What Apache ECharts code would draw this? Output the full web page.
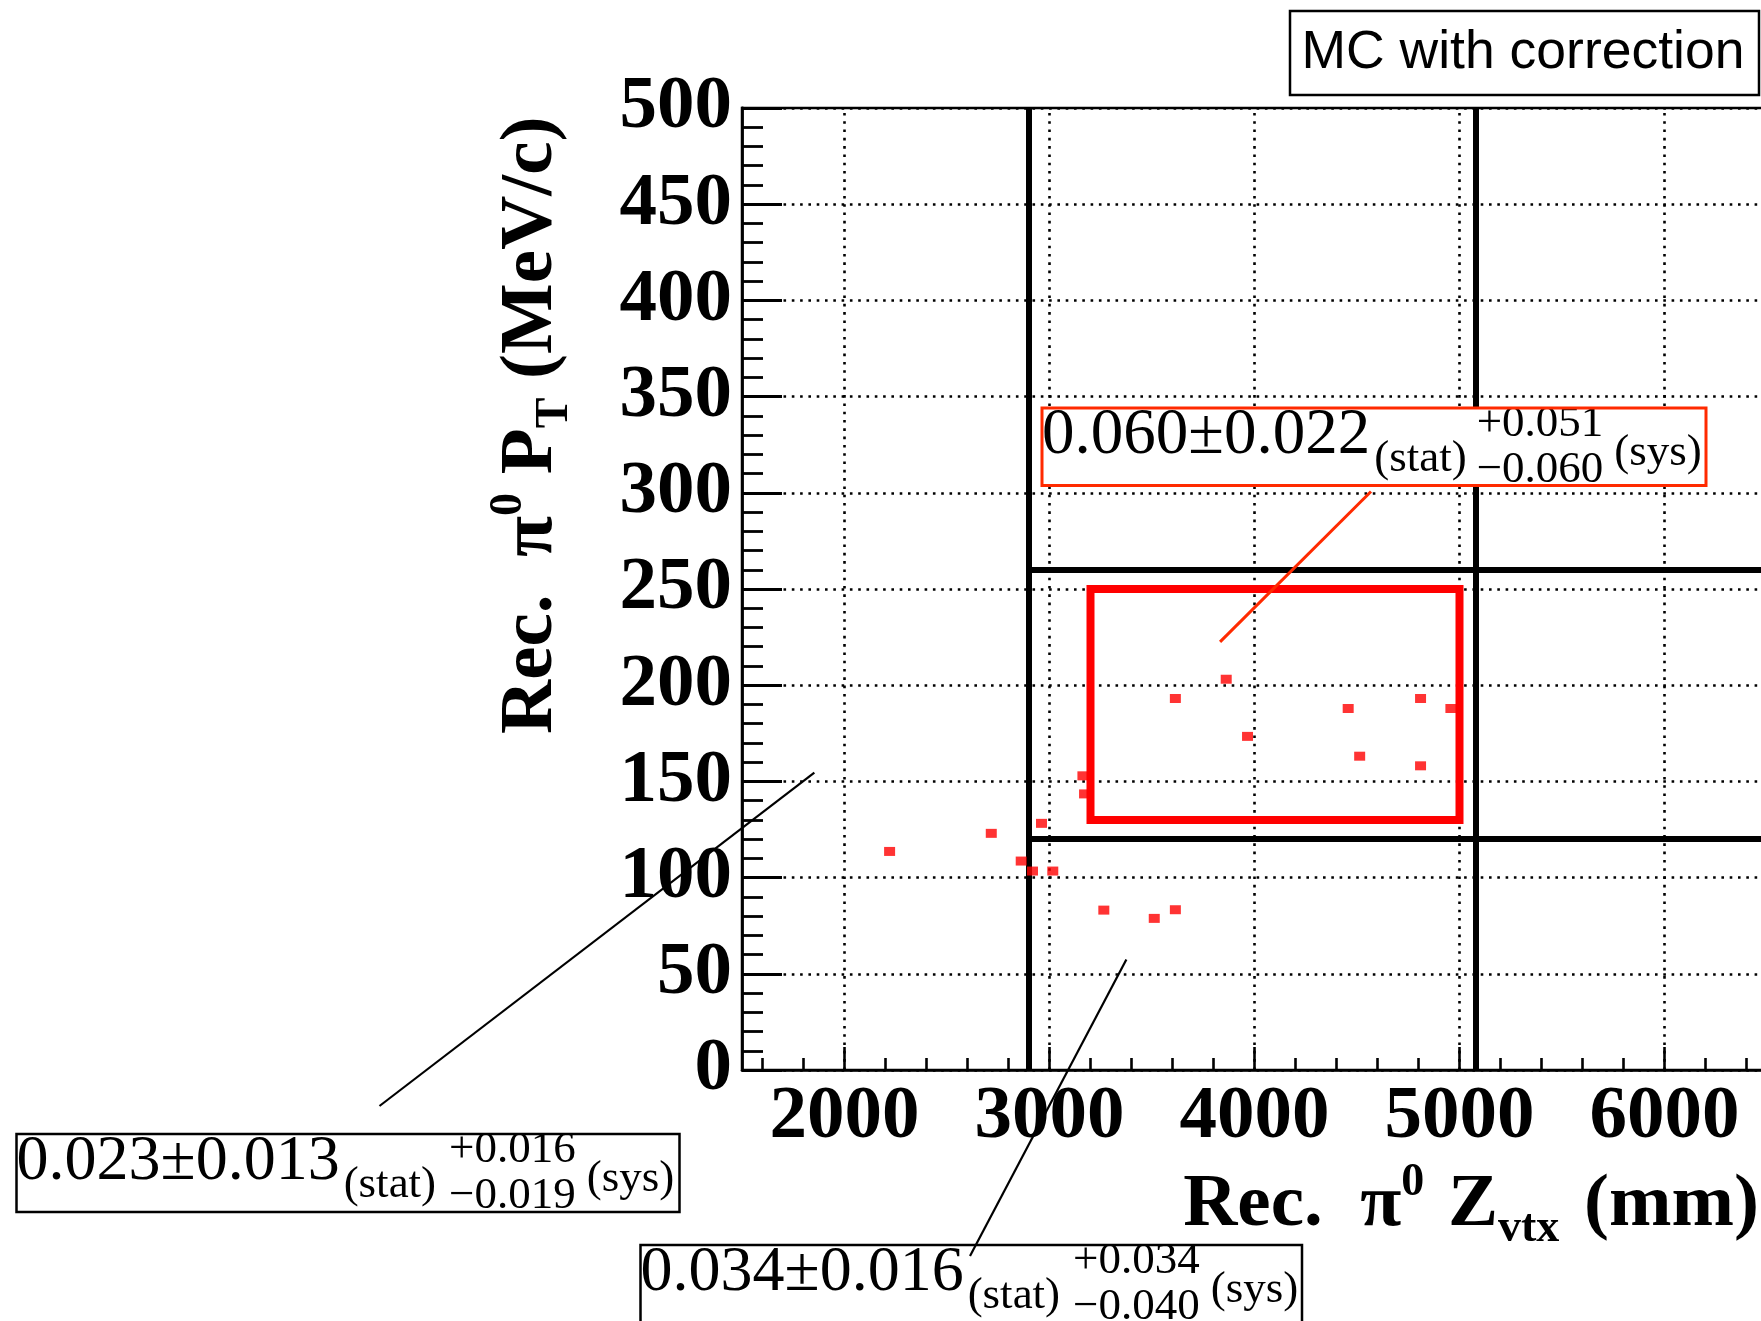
<!DOCTYPE html>
<html>
<head>
<meta charset="utf-8">
<script src="https://cdn.jsdelivr.net/npm/echarts@6/dist/echarts.min.js"></script>
<style>
  html, body { margin: 0; padding: 0; background: #fff; }
  #c { width: 1761px; height: 1321px; }
</style>
</head>
<body>
<div id="c"></div>
<script>
// Reconstructed pi0 candidates: vertex Z (mm) and transverse momentum (MeV/c)
const zVtx = [2220, 2716, 2862, 2917, 2961, 3016, 3163, 3171, 3265, 3511, 3614,
              3614, 3862, 3966, 4457, 4513, 4810, 4810, 4958];
const pT   = [113.6, 123.0, 108.6, 103.4, 128.2, 103.4, 152.9, 143.5, 83.1, 78.8, 83.3,
              193.1, 203.1, 173.4, 187.9, 163.1, 193.1, 158.1, 187.9];

// Axis ranges and labelled ticks
const zRange = [1500, 6500];
const pTRange = [0, 500];
const xTickLabels = [2000, 3000, 4000, 5000, 6000];
const yTickLabels = [0, 50, 100, 150, 200, 250, 300, 350, 400, 450, 500];

// Selection cuts (black) and signal region (red)
const zCuts = [2900, 5080];
const pTCuts = [120, 260];
const signalZ = [3200, 5000];
const signalPT = [130, 250];

// Estimated values printed for each region: signal, low-Z, low-PT
const centralText = ['0.060\u00b10.022', '0.023\u00b10.013', '0.034\u00b10.016'];
const sysUpText   = ['+0.051', '+0.016', '+0.034'];
const sysDownText = ['\u22120.060', '\u22120.019', '\u22120.040'];
// Points in (Z, PT) that each result label is tied to
const labelAnchors = [[3832, 222.5], [1853, 154.5], [3375, 57.4]];

const SERIF = 'Liberation Serif';
const SANS = 'Liberation Sans';

const measureCtx = document.createElement('canvas').getContext('2d');
function textWidth(t, size, weight, family) {
  measureCtx.font = (weight || 'normal') + ' ' + size + 'px "' + (family || SERIF) + '"';
  return measureCtx.measureText(t).width;
}
// text element placed by its baseline
function txt(t, x, baseline, size, weight, family, z) {
  return {
    type: 'text', x: x, y: baseline - 0.33 * size, z: z || 101,
    style: {
      text: t, fontFamily: family || SERIF, fontSize: size, fontWeight: weight || 'normal',
      fill: '#000', align: 'left', verticalAlign: 'middle'
    }
  };
}
// a row of text pieces with raised/lowered parts, laid out along local x
function latexRow(parts, family) {
  let x = 0;
  const els = [];
  parts.forEach(function (p) {
    const t = p[0], size = p[1], dy = p[2] || 0, gap = p[3] || 0, weight = 'bold';
    x += gap;
    els.push(txt(t, x, dy, size, weight, family, 50));
    x += textWidth(t, size, weight, family);
  });
  return { els: els, width: x };
}

const xTicks = [];
for (let v = 1600; v < zRange[1]; v += 200) xTicks.push(v);

const chart = echarts.init(document.getElementById('c'), null, { renderer: 'canvas' });

const dotted = [2.6, 5.7];

chart.setOption({
  animation: false,
  backgroundColor: '#fff',
  grid: {
    left: 742, top: 108, right: -6, bottom: 251,
    show: true, borderColor: '#000', borderWidth: 2.5, backgroundColor: 'transparent',
    containLabel: false, outerBoundsMode: 'none'
  },
  xAxis: {
    type: 'value', min: zRange[0], max: zRange[1], interval: 500,
    axisLine: { show: true, onZero: false, lineStyle: { color: '#000', width: 2.5 } },
    axisTick: { show: false },
    splitLine: { show: false },
    axisLabel: {
      margin: 10, color: '#000', fontFamily: SERIF, fontWeight: 'bold', fontSize: 75,
      formatter: function (v) { return xTickLabels.indexOf(v) >= 0 ? String(v) : ''; }
    }
  },
  yAxis: {
    type: 'value', min: pTRange[0], max: pTRange[1], interval: 50,
    axisLine: { show: true, onZero: false, lineStyle: { color: '#000', width: 2.8 } },
    axisTick: { show: true, inside: true, length: 40, lineStyle: { color: '#000', width: 2.8 } },
    minorTick: { show: true, splitNumber: 5, length: 21, lineStyle: { color: '#000', width: 2.8 } },
    splitLine: { show: true, lineStyle: { color: '#000', width: 2.6, type: dotted } },
    axisLabel: {
      margin: 10, color: '#000', fontFamily: SERIF, fontWeight: 'bold', fontSize: 75,
      formatter: function (v) { return yTickLabels.indexOf(v) >= 0 ? String(v) : ''; }
    }
  },
  series: [
    {
      // x-axis ticks (inside) and dotted vertical grid at labelled values
      type: 'custom', coordinateSystem: 'cartesian2d', silent: true, z: 1, clip: false,
      data: xTicks.map(function (v) { return [v, pTRange[0]]; }),
      encode: { x: 0, y: 1 },
      renderItem: function (params, api) {
        const v = api.value(0);
        const p = api.coord([v, pTRange[0]]);
        const top = api.coord([v, pTRange[1]])[1];
        const major = xTickLabels.indexOf(v) >= 0;
        const children = [{
          type: 'line',
          shape: { x1: p[0], y1: p[1], x2: p[0], y2: p[1] - (major ? 23 : 12) },
          style: { stroke: '#000', lineWidth: 2.6 }
        }];
        if (major) {
          children.push({
            type: 'line',
            shape: { x1: p[0], y1: p[1], x2: p[0], y2: top },
            style: { stroke: '#000', lineWidth: 2.6, lineDash: dotted }
          });
        }
        return { type: 'group', children: children };
      }
    },
    {
      // signal region
      type: 'line', silent: true, z: 3, symbol: 'none',
      data: [[signalZ[0], signalPT[0]], [signalZ[1], signalPT[0]], [signalZ[1], signalPT[1]],
             [signalZ[0], signalPT[1]], [signalZ[0], signalPT[0]]],
      lineStyle: { color: '#ff0000', width: 8, join: 'miter', cap: 'square' }
    },
    {
      type: 'scatter', z: 4, silent: true,
      symbol: 'rect', symbolSize: [11, 9],
      itemStyle: { color: '#ff0000' },
      data: zVtx.map(function (z, i) { return [z, pT[i]]; }),
      markLine: {
        silent: true, symbol: 'none', z: 2,
        label: { show: false },
        lineStyle: { color: '#000', width: 6, type: 'solid' },
        data: [
          { xAxis: zCuts[0] },
          { xAxis: zCuts[1] },
          [{ coord: [zCuts[0], pTCuts[0]] }, { coord: [zRange[1], pTCuts[0]] }],
          [{ coord: [zCuts[0], pTCuts[1]] }, { coord: [zRange[1], pTCuts[1]] }]
        ]
      }
    }
  ]
});

// ---- annotations ----
function resultBox(i, box, stroke, lw, mainSize, upGap) {
  const els = [];
  const small = 45;
  els.push({ type: 'rect', z: 100, shape: { x: box.x, y: box.y, width: box.w, height: box.h },
             style: { fill: '#fff', stroke: null } });
  let x = box.x;
  els.push(txt(centralText[i], x, box.y + 49, mainSize));
  x += textWidth(centralText[i], mainSize) + 4;
  els.push(txt('(stat)', x, box.y + 66, small));
  x += textWidth('(stat)', small) + upGap;
  els.push(txt(sysUpText[i], x, box.y + 31, small));
  els.push(txt(sysDownText[i], x, box.y + 77, small));
  x += Math.max(textWidth(sysUpText[i], small), textWidth(sysDownText[i], small)) + 11;
  els.push(txt('(sys)', x, box.y + 60, small));
  els.push({ type: 'rect', z: 102, shape: { x: box.x, y: box.y, width: box.w, height: box.h },
             style: { fill: null, stroke: stroke, lineWidth: lw } });
  return els;
}

const anchorPx = labelAnchors.map(function (a) { return chart.convertToPixel({ gridIndex: 0 }, a); });

const graphics = [];
// signal label and its pointer
graphics.push.apply(graphics, resultBox(0, { x: 1042, y: 408, w: 664, h: 77.5 }, '#ff2a00', 3, 65, 10));
graphics.push({ type: 'line', z: 99, shape: { x1: 1371, y1: 491.5, x2: anchorPx[0][0], y2: anchorPx[0][1] },
                style: { stroke: '#ff2a00', lineWidth: 3 } });
// low-Z label
graphics.push.apply(graphics, resultBox(1, { x: 16.5, y: 1134, w: 663, h: 78 }, '#000', 2.5, 64, 13));
graphics.push({ type: 'line', z: 99, shape: { x1: 379.5, y1: 1106, x2: anchorPx[1][0], y2: anchorPx[1][1] },
                style: { stroke: '#000', lineWidth: 2.2 } });
// low-PT label
graphics.push.apply(graphics, resultBox(2, { x: 640.5, y: 1245, w: 661.5, h: 80 }, '#000', 2.5, 64, 13));
graphics.push({ type: 'line', z: 103, shape: { x1: 970, y1: 1256, x2: anchorPx[2][0], y2: anchorPx[2][1] },
                style: { stroke: '#000', lineWidth: 2.2 } });

// sample tag
graphics.push({ type: 'rect', z: 100, shape: { x: 1290, y: 11, width: 469, height: 84 },
                style: { fill: '#fff', stroke: '#000', lineWidth: 2.5 } });
graphics.push({ type: 'text', z: 101, x: 1523, y: 71.7 - 0.345 * 54,
                style: { text: 'MC with correction', fontFamily: SANS, fontSize: 53.5, fill: '#000',
                         align: 'center', verticalAlign: 'middle' } });

// axis titles
const xTitle = latexRow([
  ['Rec.  \u03c0', 75], ['0', 46, -32], [' Z', 75, 0, 5], ['vtx', 46, 14], [' (mm)', 75, 0, 6]
]);
graphics.push({ type: 'group', x: 1759 - xTitle.width, y: 1230, children: xTitle.els });

const yTitle = latexRow([
  ['Rec.  \u03c0', 75], ['0', 46, -32], [' P', 75], ['T', 46, 14], [' (MeV/c)', 75]
]);
graphics.push({ type: 'group', x: 556, y: 734, rotation: Math.PI / 2, children: yTitle.els });

chart.setOption({ graphic: { elements: graphics } });
</script>
</body>
</html>
